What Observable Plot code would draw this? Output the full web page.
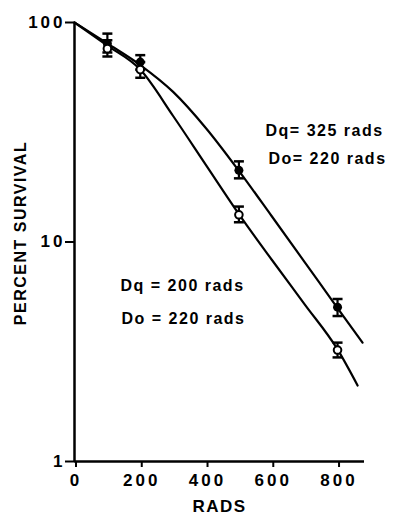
<!DOCTYPE html>
<html><head><meta charset="utf-8">
<script src="https://cdn.jsdelivr.net/npm/d3@7"></script>
<script src="https://cdn.jsdelivr.net/npm/@observablehq/plot@0.6"></script>
<style>
body{margin:0;background:#fff}
g[aria-label="x-axis tick label"] text, g[aria-label="y-axis tick label"] text {letter-spacing: 3px;}
</style>
</head><body><div id="chart"></div>
<script>
// Measured survival points (percent)
const doses = [100, 200, 500, 800];
const filledMean = [80, 66, 21.2, 5.05];
const filledLow = [73, 61, 19.5, 4.6];
const filledHigh = [89, 71, 23.3, 5.5];
const openMean = [76, 61, 13.3, 3.22];
const openLow = [70, 56, 12.3, 2.98];
const openHigh = [83, 66, 14.5, 3.48];

// Fitted curves
const upperDose = [0, 100, 200, 300, 400, 500, 600, 700, 800, 876];
const upperSurv = [100, 80.2, 64, 48.3, 33, 21.1, 13.1, 8.1, 5.0, 3.48];
const lowerDose = [0, 100, 200, 300, 400, 500, 600, 700, 800, 861];
const lowerSurv = [100, 78.5, 61, 37.5, 22.4, 13.4, 8.3, 5.2, 3.24, 2.22];

// Axis ticks
const xTicks = [0, 200, 400, 600, 800];
const yTicks = [1, 10, 100];

// Annotations
const noteText = ["Dq= 325 rads", "Do= 220 rads", "Dq = 200 rads", "Do = 220 rads"];
const noteDose = [581, 590, 140, 143];
const noteSurv = [32.2, 23.8, 6.34, 4.48];

const filled = doses.map((d, i) => ({x: d, y: filledMean[i], lo: filledLow[i], hi: filledHigh[i]}));
const open = doses.map((d, i) => ({x: d, y: openMean[i], lo: openLow[i], hi: openHigh[i]}));
const upper = upperDose.map((d, i) => ({x: d, y: upperSurv[i]}));
const lower = lowerDose.map((d, i) => ({x: d, y: lowerSurv[i]}));
const notes = noteText.map((t, i) => ({t, x: noteDose[i], y: noteSurv[i]}));

const cap = {draw(ctx, size) { const w = Math.sqrt(size / Math.PI); ctx.moveTo(-w, 0); ctx.lineTo(w, 0); }};
const font = "'Liberation Sans', Arial, Helvetica, sans-serif";

const chart = Plot.plot({
  width: 393,
  height: 517,
  marginLeft: 74,
  marginRight: 29,
  marginTop: 22,
  marginBottom: 56,
  style: {fontFamily: font, fontSize: "16px", fontWeight: "bold", letterSpacing: "1.5px", background: "white", color: "black"},
  x: {domain: [0, 882]},
  y: {type: "log", domain: [1, 100]},
  marks: [
    Plot.axisX({ticks: xTicks, tickSize: 6, tickPadding: 6, strokeWidth: 2, fontSize: 17, dx: 1.5, label: null}),
    Plot.axisY({ticks: yTicks, tickSize: 9, tickPadding: 0, strokeWidth: 2, fontSize: 17, tickFormat: d => String(d), label: null}),
    Plot.text(["RADS"], {frameAnchor: "bottom", lineAnchor: "middle", dy: 45, fontSize: 17, fontWeight: "bold", fill: "black"}),
    Plot.text(["PERCENT SURVIVAL"], {frameAnchor: "left", textAnchor: "middle", lineAnchor: "middle", rotate: -90, dx: -54, dy: -9, fontSize: 16, fontWeight: "bold", fill: "black"}),
    Plot.ruleX([0], {strokeWidth: 2.5}),
    Plot.ruleY([1], {strokeWidth: 2.5}),
    Plot.line(upper, {x: "x", y: "y", curve: "monotone-x", strokeWidth: 2.2}),
    Plot.line(lower, {x: "x", y: "y", curve: "monotone-x", strokeWidth: 2.2}),
    Plot.ruleX(filled, {x: "x", y1: "lo", y2: "hi", strokeWidth: 2.2}),
    Plot.ruleX(open, {x: "x", y1: "lo", y2: "hi", strokeWidth: 2.2}),
    Plot.dot(filled, {x: "x", y: "lo", symbol: cap, r: 5, stroke: "black", strokeWidth: 2.5}),
    Plot.dot(filled, {x: "x", y: "hi", symbol: cap, r: 5, stroke: "black", strokeWidth: 2.5}),
    Plot.dot(open, {x: "x", y: "lo", symbol: cap, r: 5, stroke: "black", strokeWidth: 2.5}),
    Plot.dot(open, {x: "x", y: "hi", symbol: cap, r: 5, stroke: "black", strokeWidth: 2.5}),
    Plot.dot(filled, {x: "x", y: "y", r: 4.5, fill: "black"}),
    Plot.dot(open, {x: "x", y: "y", r: 3.8, fill: "white", stroke: "black", strokeWidth: 2}),
    Plot.text(notes, {x: "x", y: "y", text: "t", textAnchor: "start", fontSize: 16, fontWeight: "bold", fill: "black"})
  ]
});
document.getElementById("chart").appendChild(chart);
</script>
</body></html>
